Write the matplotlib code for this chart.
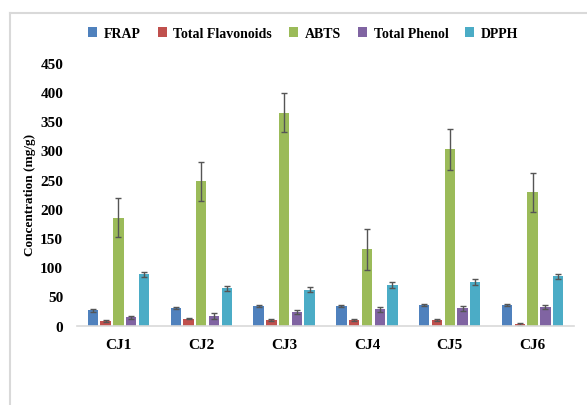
import matplotlib.pyplot as plt
import numpy as np
from matplotlib.lines import Line2D

samples = ['CJ1', 'CJ2', 'CJ3', 'CJ4', 'CJ5', 'CJ6']
assays = ['FRAP', 'Total Flavonoids', 'ABTS', 'Total Phenol', 'DPPH']
colors = ['#4F81BD', '#C0504D', '#9BBB59', '#8064A2', '#4BACC6']

frap = [26, 30, 33.5, 34, 35, 35]
flavonoids = [7.5, 12, 10, 10, 9.5, 2.5]
abts = [185, 247, 365, 131, 302, 228]
phenol = [14, 16.5, 23, 28, 29.5, 31.5]
dpph = [87.5, 64, 61.5, 70, 74.5, 84.5]

frap_err = [2, 2, 1.5, 1.5, 1.5, 1.5]
flavonoids_err = [1.5, 1.5, 1.5, 2, 2, 1]
abts_err = [33, 34, 33, 35, 35, 34]
phenol_err = [3, 5, 4, 4, 4, 4]
dpph_err = [4, 4.5, 4.5, 5, 4.5, 4.5]

values = [frap, flavonoids, abts, phenol, dpph]
errors = [frap_err, flavonoids_err, abts_err, phenol_err, dpph_err]

plt.rcParams['font.family'] = ['Liberation Serif', 'DejaVu Serif']
plt.rcParams['font.weight'] = 'bold'

fig = plt.figure(figsize=(5.87, 4.06), dpi=100)
ax = fig.add_axes([0.1312, 0.1958, 0.8467, 0.6466])

x = np.arange(len(samples))
step = 0.154
width = 0.125
for i, (name, vals, errs, c) in enumerate(zip(assays, values, errors, colors)):
    ax.bar(x + (i - 2) * step, vals, width, color=c, label=name,
           yerr=errs, capsize=2.2,
           error_kw=dict(ecolor='#555555', elinewidth=1, capthick=1))

ax.set_xlim(-0.5, len(samples) - 0.5)
ax.set_ylim(0, 450)
ax.set_yticks(range(0, 451, 50))
ax.set_xticks(x)
ax.set_xticklabels(samples, fontsize=11, fontweight='bold')
ax.tick_params(axis='y', length=0, pad=10, labelsize=11)
ax.tick_params(axis='x', length=0, pad=9)
for lab in ax.get_yticklabels():
    lab.set_fontweight('bold')

for s in ['top', 'right', 'left']:
    ax.spines[s].set_visible(False)
ax.spines['bottom'].set_color('#d9d9d9')
ax.spines['bottom'].set_linewidth(1.2)

ax.set_ylabel('Concentration (mg/g)', fontsize=9.5, fontweight='bold')
ax.yaxis.set_label_coords(-0.082, 0.5)

fig.legend(loc='center left', bbox_to_anchor=(88 / 587, 1 - 34.5 / 406), ncol=5, frameon=False,
           fontsize=10, handlelength=0.65, handleheight=0.65, handletextpad=0.5,
           columnspacing=1.2, borderpad=0, borderaxespad=0)

# light frame around the chart area
fig.add_artist(Line2D([10 / 587, 10 / 587], [0, 1 - 14 / 406], transform=fig.transFigure,
                      color='#d9d9d9', lw=1.5))
fig.add_artist(Line2D([10 / 587, 1], [1 - 14 / 406, 1 - 14 / 406], transform=fig.transFigure,
                      color='#d9d9d9', lw=1.5))

fig.savefig('out.png', dpi=100)
